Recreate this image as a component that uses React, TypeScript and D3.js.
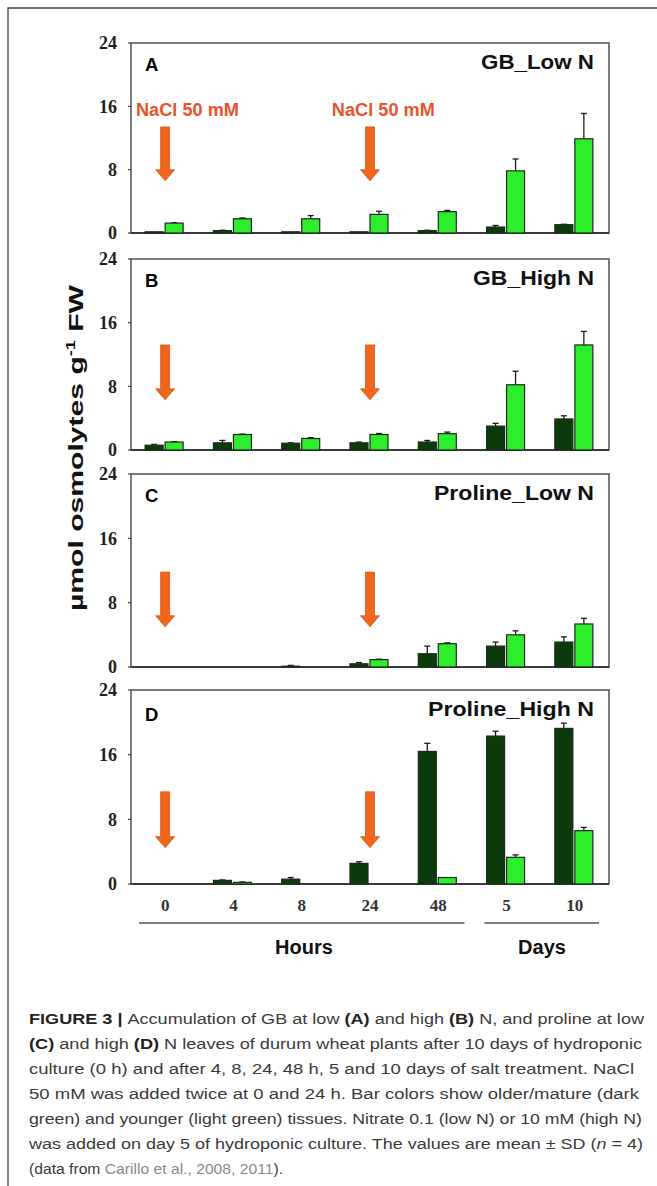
import React from 'react';
import * as d3 from 'd3';

// time points (hours 0..48, then days 5 and 10)
const categories = ['0', '4', '8', '24', '48', '5', '10'];
const yTicks = [0, 8, 16, 24];

// A: GB, low N
const gbLowDark = [0.15, 0.3, 0.15, 0.15, 0.3, 0.75, 1.05];
const gbLowDarkSd = [0, 0.05, 0, 0, 0.05, 0.2, 0.05];
const gbLowLight = [1.25, 1.8, 1.8, 2.35, 2.7, 7.85, 11.9];
const gbLowLightSd = [0.05, 0.1, 0.4, 0.4, 0.15, 1.5, 3.2];

// B: GB, high N
const gbHighDark = [0.6, 0.9, 0.85, 0.9, 1.0, 3.0, 3.9];
const gbHighDarkSd = [0.1, 0.3, 0.05, 0.1, 0.2, 0.35, 0.4];
const gbHighLight = [1.0, 1.95, 1.45, 1.95, 2.05, 8.2, 13.2];
const gbHighLightSd = [0.05, 0.05, 0.1, 0.12, 0.2, 1.7, 1.7];

// C: proline, low N
const proLowDark = [0, 0, 0.1, 0.4, 1.65, 2.6, 3.1];
const proLowDarkSd = [0, 0, 0.1, 0.15, 0.95, 0.5, 0.65];
const proLowLight = [0, 0, 0, 0.92, 2.9, 4.0, 5.35];
const proLowLightSd = [0, 0, 0, 0.05, 0.1, 0.5, 0.7];

// D: proline, high N
const proHighDark = [0, 0.45, 0.6, 2.55, 16.4, 18.3, 19.25];
const proHighDarkSd = [0, 0.05, 0.2, 0.2, 1.0, 0.6, 0.65];
const proHighLight = [0, 0.2, 0, 0, 0.8, 3.3, 6.6];
const proHighLightSd = [0, 0.05, 0, 0, 0, 0.3, 0.4];

const saltDays = ['0', '24']; // NaCl additions

const panels = [
  { letter: 'A', title: 'GB_Low N', tw: 113, top: 43, bottom: 233, dark: gbLowDark, darkSd: gbLowDarkSd, light: gbLowLight, lightSd: gbLowLightSd, arrow: [13.4, 6.6], salt: true },
  { letter: 'B', title: 'GB_High N', tw: 121, top: 259, bottom: 450, dark: gbHighDark, darkSd: gbHighDarkSd, light: gbHighLight, lightSd: gbHighLightSd, arrow: [13.2, 6.3], salt: false },
  { letter: 'C', title: 'Proline_Low N', tw: 160, top: 474, bottom: 667, dark: proLowDark, darkSd: proLowDarkSd, light: proLowLight, lightSd: proLowLightSd, arrow: [11.8, 5.0], salt: false },
  { letter: 'D', title: 'Proline_High N', tw: 166, top: 690, bottom: 884, dark: proHighDark, darkSd: proHighDarkSd, light: proHighLight, lightSd: proHighLightSd, arrow: [11.4, 4.5], salt: false },
];

const DARK = '#0b3a0b';
const LIGHT = '#2ded2d';
const ORANGE = '#f0661c';
const sans = '"Liberation Sans", Arial, sans-serif';
const serif = '"Liberation Serif", "Times New Roman", serif';

const left = 131;
const right = 609;

const x0 = d3.scaleBand().domain(categories).range([left, right]);
const x1 = d3.scaleBand().domain(['dark', 'light']).range([-20, 18]).paddingInner(0.1);

function Arrow({ x, y0, y1 }: { x: number; y0: number; y1: number }) {
  const head = 11;
  const p = d3.path();
  p.moveTo(x - 4.5, y0);
  p.lineTo(x + 4.5, y0);
  p.lineTo(x + 4.5, y1 - head);
  p.lineTo(x + 9.5, y1 - head);
  p.lineTo(x, y1);
  p.lineTo(x - 9.5, y1 - head);
  p.lineTo(x - 4.5, y1 - head);
  p.closePath();
  return <path d={p.toString()} fill={ORANGE} stroke="#d9561a" strokeWidth={0.8} />;
}

function Panel({ cfg }: { cfg: (typeof panels)[number] }) {
  const y = d3.scaleLinear().domain([0, 24]).range([cfg.bottom, cfg.top]);
  const series = [
    { key: 'dark', vals: cfg.dark, sd: cfg.darkSd, color: DARK },
    { key: 'light', vals: cfg.light, sd: cfg.lightSd, color: LIGHT },
  ];
  return (
    <g>
      <rect x={left} y={cfg.top} width={right - left} height={cfg.bottom - cfg.top} fill="none" stroke="#5a5a5a" strokeWidth={1.6} />
      <line x1={left} x2={right} y1={cfg.bottom} y2={cfg.bottom} stroke="#3a3a3a" strokeWidth={2} />
      {yTicks.map(t => (
        <g key={t}>
          <line x1={left - 3} x2={left} y1={y(t)} y2={y(t)} stroke="#444" strokeWidth={1.2} />
          <text x={117} y={y(t)} dy="0.35em" textAnchor="end" fontFamily={serif} fontWeight="bold" fontSize={18} fill="#222">{t}</text>
        </g>
      ))}
      {series.map(s =>
        categories.map((c, i) => {
          const v = s.vals[i];
          if (!v) return null;
          const bx = (x0(c) as number) + x0.bandwidth() / 2 + (x1(s.key) as number);
          const bw = x1.bandwidth();
          const top = y(v + s.sd[i]);
          return (
            <g key={s.key + c}>
              {s.sd[i] > 0 && (
                <g stroke="#1a1a1a" strokeWidth={1.3}>
                  <line x1={bx + bw / 2} x2={bx + bw / 2} y1={y(v)} y2={top} />
                  <line x1={bx + bw / 2 - 3} x2={bx + bw / 2 + 3} y1={top} y2={top} />
                </g>
              )}
              <rect x={bx} y={y(v)} width={bw} height={y(0) - y(v)} fill={s.color} stroke="#1c2a1c" strokeWidth={1.2} />
            </g>
          );
        })
      )}
      {saltDays.map(c => {
        const cx = (x0(c) as number) + x0.bandwidth() / 2;
        return <Arrow key={c} x={cx} y0={y(cfg.arrow[0])} y1={y(cfg.arrow[1])} />;
      })}
      {cfg.salt && (
        <g fontFamily={sans} fontWeight="bold" fontSize={17.5} fill="#e8532b">
          <text x={(x0('0') as number) + 5} y={y(15.5)} dy="0.35em" textLength={103} lengthAdjust="spacingAndGlyphs">NaCl 50 mM</text>
          <text x={(x0('24') as number) - 4} y={y(15.5)} dy="0.35em" textLength={103} lengthAdjust="spacingAndGlyphs">NaCl 50 mM</text>
        </g>
      )}
      <text x={left + 14} y={cfg.top + 20 + (cfg.letter === 'D' ? 5 : 2)} dy="0.35em" fontFamily={sans} fontWeight="bold" fontSize={18.5} fill="#000">{cfg.letter}</text>
      <text x={594 - cfg.tw} y={cfg.top + 19} dy="0.35em" fontFamily={sans} fontWeight="bold" fontSize={20} fill="#111" textLength={cfg.tw} lengthAdjust="spacingAndGlyphs">{cfg.title}</text>
    </g>
  );
}

const captionLines: { parts: { t: string; b?: boolean; i?: boolean; g?: boolean }[]; w?: number }[] = [
  { parts: [{ t: 'FIGURE 3 | ', b: true }, { t: 'Accumulation of GB at low ' }, { t: '(A)', b: true }, { t: ' and high ' }, { t: '(B)', b: true }, { t: ' N, and proline at low' }], w: 615 },
  { parts: [{ t: '(C)', b: true }, { t: ' and high ' }, { t: '(D)', b: true }, { t: ' N leaves of durum wheat plants after 10 days of hydroponic' }], w: 613 },
  { parts: [{ t: 'culture (0 h) and after 4, 8, 24, 48 h, 5 and 10 days of salt treatment. NaCl' }], w: 605 },
  { parts: [{ t: '50 mM was added twice at 0 and 24 h. Bar colors show older/mature (dark' }], w: 610 },
  { parts: [{ t: 'green) and younger (light green) tissues. Nitrate 0.1 (low N) or 10 mM (high N)' }], w: 613 },
  { parts: [{ t: 'was added on day 5 of hydroponic culture. The values are mean ± SD (' }, { t: 'n', i: true }, { t: ' = 4)' }], w: 614 },
  { parts: [{ t: '(data from ' }, { t: 'Carillo et al., 2008, 2011', g: true }, { t: ').' }], w: 254 },
];

export default function App() {
  const hoursC = categories.slice(0, 5);
  const daysC = categories.slice(5);
  const band = x0.bandwidth();
  return (
    <svg width={657} height={1186} style={{ position: 'absolute', left: 0, top: 0, background: '#fff' }}>
      <path d="M8,1186 V8 H657" fill="none" stroke="#444" strokeWidth={1.3} />
      {panels.map(p => <Panel key={p.letter} cfg={p} />)}

      {categories.map(c => (
        <text key={c} x={(x0(c) as number) + band / 2} y={905} dy="0.35em" textAnchor="middle" fontFamily={serif} fontWeight="bold" fontSize={17} fill="#333">{c}</text>
      ))}
      <line x1={(x0(hoursC[0]) as number) + 8} x2={(x0(hoursC[4]) as number) + band - 8} y1={923} y2={923} stroke="#555" strokeWidth={1.6} />
      <line x1={(x0(daysC[0]) as number) + 12} x2={(x0(daysC[1]) as number) + band - 10} y1={923} y2={923} stroke="#555" strokeWidth={1.6} />
      <text x={304} y={947} dy="0.35em" textAnchor="middle" fontFamily={sans} fontWeight="bold" fontSize={20} fill="#111">Hours</text>
      <text x={542} y={947} dy="0.35em" textAnchor="middle" fontFamily={sans} fontWeight="bold" fontSize={20} fill="#111">Days</text>

      <text transform="translate(76,448) rotate(-90)" textAnchor="middle" dy="0.35em" fontFamily={sans} fontWeight="bold" fontSize={20} fill="#111" textLength={326} lengthAdjust="spacingAndGlyphs">
        µmol osmolytes  g<tspan fontSize={12} dy="-8">-1</tspan><tspan dy="8"> FW</tspan>
      </text>

      {captionLines.map((ln, i) => (
        <text key={i} x={29} y={1019 + i * 25} dy="0.35em" fontFamily={sans} fontSize={15.5} fill="#3a3a3a" textLength={ln.w} lengthAdjust="spacingAndGlyphs">
          {ln.parts.map((p, j) => (
            <tspan key={j} fontWeight={p.b ? 'bold' : 'normal'} fontStyle={p.i ? 'italic' : 'normal'} fill={p.b ? '#222' : p.g ? '#8a8a8a' : undefined}>{p.t}</tspan>
          ))}
        </text>
      ))}
    </svg>
  );
}
